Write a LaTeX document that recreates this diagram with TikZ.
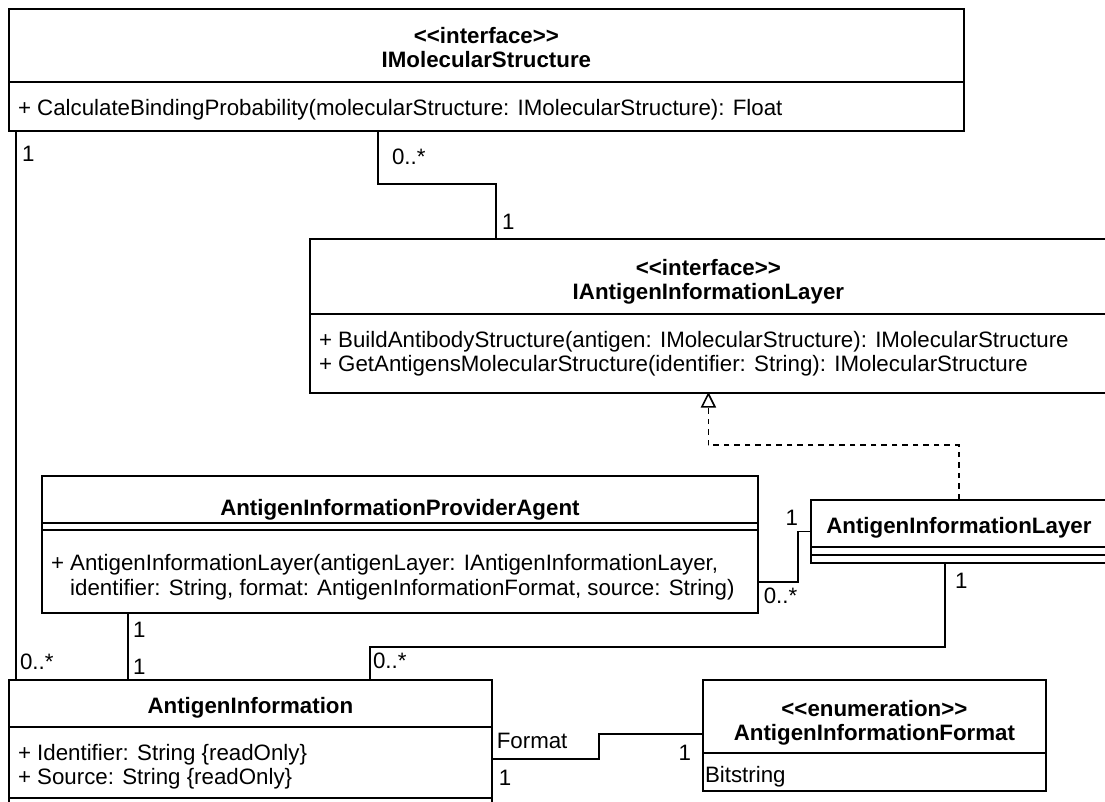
\documentclass[tikz,border=0pt]{standalone}
\usepackage{fontspec}
\newfontfamily\umlfont{Liberation Sans}
\usetikzlibrary{arrows.meta}

% horizontal compartment line inside a class box, #2 pt below its top
\newcommand\compline[2]{\draw ([yshift=-#2pt]#1.north west) -- ([yshift=-#2pt]#1.north east);}

\begin{document}
\begin{tikzpicture}[x=1pt,y=-1pt,
  line width=1.8pt, line join=miter,
  classbox/.style={draw, fill=white, inner sep=0pt, anchor=north west, rectangle},
  uml/.style={font=\umlfont\fontsize{22.3}{24}\selectfont, inner sep=0pt, outer sep=0pt},
  title/.style={uml, font=\umlfont\fontsize{22.3}{24}\selectfont\bfseries, anchor=base},
  member/.style={uml, anchor=base west, align=left},
  mult/.style={uml, anchor=base west},
  multr/.style={uml, anchor=base east},
  realize/.style={dash pattern=on 5.5pt off 5pt},
  hollowtip/.style={draw, fill=white, line width=1.6pt, line join=miter},
]
\fill[white] (0,0) rectangle (1105,801);
\useasboundingbox (0,0) rectangle (1105,801);

% ---- class boxes ----
\node[classbox, minimum width=955pt, minimum height=122pt] (ims)  at (8,8) {};
\node[classbox, minimum width=797pt, minimum height=154pt] (iail) at (309,238) {};
\node[classbox, minimum width=716pt, minimum height=137pt] (apa)  at (41,475) {};
\node[classbox, minimum width=296pt, minimum height=63pt]  (ail)  at (810,499) {};
\node[classbox, minimum width=483pt, minimum height=150pt] (ai)   at (8,679) {};
\node[classbox, minimum width=343pt, minimum height=111pt] (aif)  at (702,679) {};

% ---- compartments ----
\compline{ims}{74}
\compline{iail}{76}
\compline{apa}{48}
\compline{apa}{55}
\compline{ail}{48}
\compline{ail}{56}
\compline{ai}{48}
\compline{ai}{119}
\compline{aif}{74}

% ---- IMolecularStructure ----
\node[title] (ims-st) at ([yshift=-35pt]ims.north) {<<interface>>};
\node[title] (ims-nm) at ([yshift=-59pt]ims.north) {IMolecularStructure};
\node[member] (ims-op) at ([xshift=10pt,yshift=-107pt]ims.north west)
  {+ CalculateBindingProbability(molecularStructure: IMolecularStructure): Float};

% ---- IAntigenInformationLayer ----
\node[title] (iail-st) at ([yshift=-37pt]iail.north) {<<interface>>};
\node[title] (iail-nm) at ([yshift=-61pt]iail.north) {IAntigenInformationLayer};
\node[member] (iail-op1) at ([xshift=10pt,yshift=-109pt]iail.north west)
  {+ BuildAntibodyStructure(antigen: IMolecularStructure): IMolecularStructure};
\node[member] (iail-op2) at ([xshift=10pt,yshift=-133pt]iail.north west)
  {+ GetAntigensMolecularStructure(identifier: String): IMolecularStructure};

% ---- AntigenInformationProviderAgent ----
\node[title] (apa-nm) at ([yshift=-40pt]apa.north) {AntigenInformationProviderAgent};
\node[member] (apa-op1) at ([xshift=10pt,yshift=-95pt]apa.north west)
  {+ AntigenInformationLayer(antigenLayer: IAntigenInformationLayer,};
\node[member] (apa-op2) at ([xshift=10pt,yshift=-120pt]apa.north west)
  {\phantom{+ }identifier: String, format: AntigenInformationFormat, source: String)};

% ---- AntigenInformationLayer ----
\node[title] (ail-nm) at ([yshift=-34pt]ail.north) {AntigenInformationLayer};

% ---- AntigenInformation ----
\node[title] (ai-nm) at ([yshift=-34pt]ai.north) {AntigenInformation};
\node[member] (ai-at1) at ([xshift=10pt,yshift=-81pt]ai.north west)
  {+ Identifier: String \{readOnly\}};
\node[member] (ai-at2) at ([xshift=10pt,yshift=-105pt]ai.north west)
  {+ Source: String \{readOnly\}};

% ---- AntigenInformationFormat ----
\node[title] (aif-st) at ([yshift=-37pt]aif.north) {<<enumeration>>};
\node[title] (aif-nm) at ([yshift=-61pt]aif.north) {AntigenInformationFormat};
\node[member] (aif-lit) at ([xshift=3pt,yshift=-103pt]aif.north west) {Bitstring};

% ---- associations ----
% IMolecularStructure -- AntigenInformation
\draw ([xshift=8pt]ims.south west) -- ([xshift=8pt]ai.north west);
\node[mult] (m-ims-ai-a) at ([xshift=14pt,yshift=-30pt]ims.south west) {1};
\node[mult] (m-ims-ai-b) at ([xshift=12pt,yshift=10pt]ai.north west) {0..*};

% IMolecularStructure -- IAntigenInformationLayer
\draw ([xshift=370pt]ims.south west) -- ++(0,52) -| ([xshift=187pt]iail.north west);
\node[mult] (m-ims-iail-a) at ([xshift=384pt,yshift=-33pt]ims.south west) {0..*};
\node[mult] (m-ims-iail-b) at ([xshift=193pt,yshift=9pt]iail.north west) {1};

% realization AntigenInformationLayer -> IAntigenInformationLayer (hollow triangle head)
\draw[realize] (ail.north) -- ++(0,-54) -| ([yshift=-13pt]iail.south);
\draw[hollowtip] (iail.south) -- ++(-6.5,13) -- ++(13,0) -- cycle;

% AntigenInformationProviderAgent -- AntigenInformationLayer
\draw ([yshift=32pt]apa.south east) -- ++(39,0) |- (ail.west);
\node[multr] (m-apa-ail-a) at ([xshift=-12pt,yshift=5.5pt]ail.west) {1};
\node[mult]  (m-apa-ail-b) at ([xshift=5pt,yshift=10pt]apa.south east) {0..*};

% AntigenInformationProviderAgent -- AntigenInformation
\draw ([xshift=87pt]apa.south west) -- ([xshift=87pt]apa.south west |- ai.north);
\node[mult] (m-apa-ai-a) at ([xshift=92pt,yshift=-24pt]apa.south west) {1};
\node[mult] (m-apa-ai-b) at ([xshift=125pt,yshift=5pt]ai.north west) {1};

% AntigenInformationLayer -- AntigenInformation
\draw ([xshift=135pt]ail.south west) -- ++(0,83) -| ([xshift=362pt]ai.north west);
\node[mult] (m-ail-ai-a) at ([xshift=145pt,yshift=-25pt]ail.south west) {1};
\node[mult] (m-ail-ai-b) at ([xshift=365pt,yshift=11pt]ai.north west) {0..*};

% AntigenInformation -- AntigenInformationFormat
\draw ([yshift=-80pt]ai.north east) -- ++(106,0) |- ([yshift=-55pt]aif.north west);
\node[mult]  (m-ai-aif-role) at ([xshift=4pt,yshift=-69pt]ai.north east) {Format};
\node[mult]  (m-ai-aif-a) at ([xshift=6pt,yshift=-106pt]ai.north east) {1};
\node[multr] (m-ai-aif-b) at ([xshift=-11pt,yshift=-81pt]aif.north west) {1};
\end{tikzpicture}
\end{document}
